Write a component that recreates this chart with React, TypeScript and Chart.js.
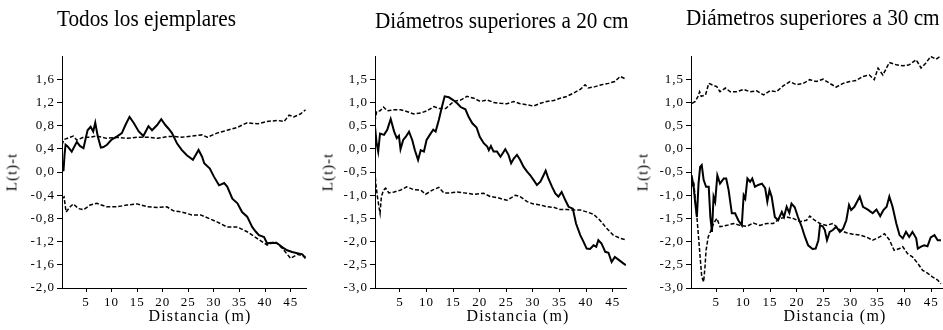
import { useEffect, useRef } from "react";
import { Chart, registerables } from "chart.js";

Chart.register(...registerables);

type Pt = [number, number];

// ---------- Titles & labels ----------
const panelTitles = [
  "Todos los ejemplares",
  "Diámetros superiores a 20 cm",
  "Diámetros superiores a 30 cm",
];
const xAxisTitle = "Distancia (m)";
const yAxisTitle = "L(t)-t";

// ---------- Tick values ----------
const xTickValues = [5, 10, 15, 20, 25, 30, 35, 40, 45];
const p1YTicks = [-2.0, -1.6, -1.2, -0.8, -0.4, 0.0, 0.4, 0.8, 1.2, 1.6];
const p23YTicks = [-3.0, -2.5, -2.0, -1.5, -1.0, -0.5, 0.0, 0.5, 1.0, 1.5];

// ---------- Panel 1: Todos los ejemplares ----------
const p1Observed: Pt[] = [
  [0.3, 0.02], [0.6, 0.03], [0.8, 0.3], [1.0, 0.47], [1.4, 0.44], [2.2, 0.35], [3.2, 0.52], [3.8, 0.45],
  [4.5, 0.41], [5.3, 0.72], [5.9, 0.78], [6.4, 0.70], [6.8, 0.85], [7.3, 0.61], [7.9, 0.42],
  [8.4, 0.43], [9.1, 0.47], [10, 0.56], [11, 0.61], [12, 0.67], [12.7, 0.81], [13.5, 0.95],
  [14.3, 0.85], [15.3, 0.70], [16.2, 0.62], [17.2, 0.79], [17.9, 0.72], [18.9, 0.81], [19.7, 0.91],
  [20.5, 0.81], [21.1, 0.75], [21.8, 0.67], [22.8, 0.49], [23.7, 0.38], [24.7, 0.29], [25.9, 0.21],
  [27, 0.38], [27.7, 0.26], [28.1, 0.15], [29.2, 0.06], [30, -0.08], [31, -0.23], [32, -0.19],
  [32.6, -0.25], [33.6, -0.46], [34.6, -0.54], [35.5, -0.69], [36.5, -0.77], [37.5, -0.95],
  [38.2, -1.03], [38.8, -1.09], [39.8, -1.12], [40.4, -1.23], [41.4, -1.22], [42.4, -1.23],
  [43.4, -1.30], [44.3, -1.35], [45.3, -1.38], [46.3, -1.40], [47.3, -1.42], [47.9, -1.49],
];
const p1Upper: Pt[] = [
  [0.3, 0.47], [0.7, 0.56], [1.9, 0.60], [2.5, 0.62], [3.2, 0.55], [4.5, 0.60], [5.8, 0.60],
  [7.1, 0.62], [9, 0.58], [11, 0.60], [13, 0.58], [15, 0.60], [17, 0.60], [19, 0.58], [20.8, 0.61],
  [22.4, 0.61], [23.7, 0.60], [25.7, 0.62], [27.7, 0.64], [28.7, 0.60], [30.6, 0.67], [32.6, 0.72],
  [34.6, 0.77], [36.5, 0.85], [38.5, 0.83], [40.4, 0.87], [42.4, 0.89], [43.7, 0.87], [44.7, 0.98],
  [45.6, 0.95], [46.9, 1.0], [47.9, 1.07],
];
const p1Lower: Pt[] = [
  [0.3, -0.46], [0.7, -0.43], [1.1, -0.69], [1.9, -0.60], [2.5, -0.55], [3.5, -0.63], [4.5, -0.65],
  [5.8, -0.57], [7.1, -0.54], [9, -0.60], [11, -0.60], [13, -0.57], [15, -0.55], [17, -0.60],
  [19, -0.61], [20.8, -0.60], [22.1, -0.67], [23.7, -0.69], [25.7, -0.74], [27.4, -0.74], [29, -0.80],
  [30.6, -0.86], [32.6, -0.95], [34.6, -0.95], [36.5, -1.03], [38.5, -1.15], [40.4, -1.26],
  [42, -1.20], [43.4, -1.32], [45, -1.49], [46.3, -1.42], [47.9, -1.46],
];

// ---------- Panel 2: Diámetros superiores a 20 cm ----------
const p2Observed: Pt[] = [
  [0.3, 0.48], [0.6, 0.12], [0.9, -0.06], [1.25, 0.33], [2, 0.30], [2.6, 0.41], [3.25, 0.64],
  [3.9, 0.37], [4.4, 0.23], [4.8, 0.28], [5.1, -0.01], [5.6, 0.19], [6.1, 0.26], [6.7, 0.37],
  [7.3, 0.19], [7.8, -0.03], [8.4, -0.24], [8.9, -0.03], [9.5, -0.06], [10, 0.19], [10.6, 0.30],
  [11.25, 0.41], [11.7, 0.37], [12.3, 0.62], [12.9, 0.91], [13.4, 1.13], [14.2, 1.11], [15, 1.05],
  [15.75, 0.98], [16.4, 0.90], [17.3, 0.85], [17.9, 0.69], [18.6, 0.55], [19.4, 0.46], [20, 0.26],
  [20.75, 0.12], [21.4, 0.05], [21.7, -0.03], [22.1, 0.06], [22.6, -0.06], [23.25, -0.06],
  [23.9, -0.17], [24.8, -0.01], [25.4, -0.13], [25.9, -0.31], [26.4, -0.21], [27, -0.13],
  [27.6, -0.24], [28.25, -0.39], [28.9, -0.49], [29.5, -0.57], [30.1, -0.67], [30.75, -0.78],
  [31.4, -0.71], [32, -0.57], [32.4, -0.47], [32.9, -0.64], [33.6, -0.82], [34.2, -0.96],
  [34.8, -1.03], [35.4, -0.93], [36.1, -1.11], [36.7, -1.25], [37.5, -1.29], [38.1, -1.61],
  [38.9, -1.86], [39.5, -2.0], [40.1, -2.15], [40.75, -2.16], [41.4, -2.08], [41.9, -2.11],
  [42.3, -1.97], [42.9, -2.04], [43.6, -2.22], [44.2, -2.24], [44.8, -2.44], [45.4, -2.33],
  [46.2, -2.40], [47, -2.47], [47.5, -2.51],
];
const p2Upper: Pt[] = [
  [0.3, 0.59], [0.6, 0.80], [1.25, 0.82], [1.9, 0.90], [2.6, 0.82], [3.9, 0.84], [5.1, 0.84],
  [6.4, 0.80], [7.6, 0.75], [8.9, 0.77], [10.1, 0.82], [11.4, 0.91], [12.3, 0.87], [13.6, 0.87],
  [15.1, 1.02], [16.4, 1.05], [17.6, 1.13], [18.9, 1.09], [20.1, 1.02], [21.4, 1.05], [22.6, 1.0],
  [23.9, 0.98], [25.1, 0.97], [26.4, 1.02], [27.6, 0.97], [28.9, 0.95], [30.1, 0.92], [31.4, 0.98],
  [32.6, 1.02], [33.9, 1.04], [35.1, 1.09], [36.4, 1.13], [37.6, 1.20], [38.9, 1.28], [39.8, 1.38],
  [40.4, 1.31], [41.7, 1.34], [42.9, 1.38], [44.2, 1.41], [45.4, 1.45], [46.4, 1.56], [47.5, 1.50],
];
const p2Lower: Pt[] = [
  [0.3, -0.49], [0.45, -0.75], [0.75, -1.03], [1.05, -1.25], [1.25, -1.39], [1.5, -1.03],
  [1.9, -0.89], [2.3, -0.85], [2.9, -0.95], [3.9, -0.93], [5.1, -0.89], [6.25, -0.82], [7.6, -0.88],
  [8.9, -0.89], [9.8, -0.98], [11.1, -0.89], [12.3, -0.83], [13.25, -0.95], [14.5, -0.95],
  [15.75, -0.93], [17, -0.95], [18.9, -0.98], [20.75, -0.96], [22, -1.03], [23.25, -1.05],
  [25.1, -1.11], [26.7, -1.0], [27.6, -1.03], [28.9, -1.14], [30.1, -1.19], [31.4, -1.21],
  [32.6, -1.25], [33.9, -1.26], [35.1, -1.31], [36.4, -1.31], [37.6, -1.32], [38.9, -1.32],
  [40.1, -1.36], [41.4, -1.41], [42.6, -1.54], [43.9, -1.72], [45.1, -1.86], [46.4, -1.93],
  [47.5, -1.96],
];

// ---------- Panel 3: Diámetros superiores a 30 cm ----------
const p3Observed: Pt[] = [
  [0.4, -0.57], [0.8, -0.82], [1.1, -1.18], [1.4, -1.47], [1.7, -0.75], [2, -0.39], [2.3, -0.35],
  [2.65, -0.67], [3.1, -0.82], [3.6, -0.82], [3.9, -1.47], [4.2, -1.79], [4.5, -1.03], [4.8, -1.14],
  [5.2, -0.57], [5.7, -0.75], [6.4, -0.64], [6.85, -0.64], [7.3, -0.89], [7.9, -1.39], [8.5, -1.39],
  [9.1, -1.54], [9.75, -1.65], [10.1, -1.0], [10.4, -1.07], [10.8, -0.64], [11.3, -0.71],
  [11.7, -0.64], [12.2, -0.82], [12.8, -0.78], [13.5, -0.75], [14.1, -0.85], [14.5, -1.14],
  [14.9, -0.89], [15.3, -1.03], [15.9, -1.47], [16.5, -1.54], [17.2, -1.36], [17.6, -1.47],
  [18.1, -1.25], [18.6, -1.38], [19, -1.18], [19.6, -1.26], [20.2, -1.47], [20.9, -1.68],
  [21.5, -1.90], [22.1, -2.08], [22.9, -2.16], [23.5, -2.15], [24, -1.97], [24.3, -1.65],
  [24.8, -1.67], [25.2, -1.75], [25.6, -1.97], [26.1, -1.79], [26.7, -1.75], [27.3, -1.68],
  [28, -1.79], [28.6, -1.72], [29.2, -1.54], [29.7, -1.21], [30.1, -1.32], [30.7, -1.25],
  [31.7, -1.03], [32.3, -1.25], [33.2, -1.31], [34.1, -1.39], [34.8, -1.31], [35.5, -1.45],
  [36.1, -1.32], [36.7, -1.25], [37.2, -1.03], [37.8, -1.25], [38.5, -1.61], [39.1, -1.86],
  [39.7, -1.93], [40.3, -1.79], [40.9, -1.90], [41.5, -1.79], [42.2, -1.93], [42.5, -2.15],
  [43.1, -2.11], [43.7, -2.08], [44.3, -2.10], [44.9, -1.91], [45.6, -1.86], [46.2, -1.97],
  [46.8, -1.97],
];
const p3Upper: Pt[] = [
  [0.5, 0.98], [1.1, 1.02], [1.6, 1.13], [1.9, 1.23], [2.2, 1.13], [3, 1.16], [3.6, 1.41],
  [4.2, 1.38], [5.1, 1.34], [5.7, 1.23], [6.7, 1.31], [7.6, 1.23], [8.8, 1.23], [10.1, 1.28],
  [11.3, 1.23], [12.5, 1.25], [13.8, 1.16], [15, 1.25], [16.2, 1.23], [17.5, 1.36], [18.7, 1.45],
  [19.9, 1.38], [21.2, 1.41], [22.4, 1.49], [23.6, 1.45], [24.9, 1.50], [26.1, 1.41], [27.3, 1.33],
  [28.6, 1.41], [29.8, 1.45], [31, 1.47], [32.3, 1.56], [33.5, 1.59], [34.4, 1.49], [35.1, 1.74],
  [36, 1.59], [37.2, 1.86], [38.5, 1.81], [39.7, 1.79], [40.9, 1.81], [42.2, 1.92], [43.1, 1.74],
  [44, 1.85], [44.9, 1.99], [45.9, 1.93], [46.8, 2.0],
];
const p3Lower: Pt[] = [
  [0.4, -0.82], [0.8, -0.71], [1.1, -1.11], [1.4, -1.47], [1.7, -1.90], [2, -2.33], [2.3, -2.76],
  [2.65, -2.87], [2.9, -2.55], [3.1, -2.19], [3.5, -1.90], [3.9, -1.79], [4.5, -1.61], [5.1, -1.50],
  [5.7, -1.68], [7, -1.65], [8.2, -1.61], [9.4, -1.65], [10.7, -1.67], [11.9, -1.60], [13.1, -1.65],
  [14.4, -1.61], [15.6, -1.61], [16.9, -1.50], [18.1, -1.47], [19.3, -1.50], [20.6, -1.57],
  [21.8, -1.54], [22.4, -1.45], [23.3, -1.54], [24.3, -1.61], [25.5, -1.65], [26.7, -1.61],
  [28, -1.75], [29.2, -1.81], [30.4, -1.84], [31.7, -1.86], [32.9, -1.90], [34.1, -1.97],
  [35.4, -1.90], [36.3, -1.83], [37.2, -1.96], [38.1, -2.19], [39.1, -2.15], [39.7, -2.11],
  [40.6, -2.26], [41.5, -2.33], [42.5, -2.47], [43.4, -2.62], [44.3, -2.68], [45.2, -2.76],
  [46.2, -2.83], [46.8, -2.91],
];

const FONT = "'Liberation Serif', 'Times New Roman', serif";

const fmtComma = (v: number) => {
  const s = Number(v).toFixed(1).replace(".", ",");
  return s === "-0,0" ? "0,0" : s;
};

const letterSpacingPlugin = {
  id: "tickLetterSpacing",
  beforeDraw(chart: any) {
    chart.ctx.letterSpacing = "1px";
  },
  afterDraw(chart: any) {
    chart.ctx.letterSpacing = "0px";
  },
};

type PanelProps = {
  left: number;
  width: number;
  yAxisWidth: number;
  padRight: number;
  xMin: number;
  xMax: number;
  yMin: number;
  yMax: number;
  yTicks: number[];
  observed: Pt[];
  upper: Pt[];
  lower: Pt[];
};

function Panel(p: PanelProps) {
  const ref = useRef<HTMLCanvasElement | null>(null);
  useEffect(() => {
    if (!ref.current) return;
    const toXY = (arr: Pt[]) => arr.map(([x, y]) => ({ x, y }));
    const chart = new Chart(ref.current, {
      type: "line",
      data: {
        datasets: [
          {
            data: toXY(p.observed),
            borderColor: "#000",
            borderWidth: 2,
            pointRadius: 0,
            tension: 0,
            fill: false,
          },
          {
            data: toXY(p.upper),
            borderColor: "#000",
            borderWidth: 1.5,
            borderDash: [4, 2],
            pointRadius: 0,
            tension: 0,
            fill: false,
          },
          {
            data: toXY(p.lower),
            borderColor: "#000",
            borderWidth: 1.5,
            borderDash: [4, 2],
            pointRadius: 0,
            tension: 0,
            fill: false,
          },
        ],
      },
      options: {
        animation: false,
        responsive: false,
        maintainAspectRatio: false,
        events: [],
        layout: { padding: { top: 56, right: p.padRight, bottom: 0, left: 0 } },
        plugins: {
          legend: { display: false },
          tooltip: { enabled: false },
          title: { display: false },
        },
        scales: {
          x: {
            type: "linear",
            min: p.xMin,
            max: p.xMax,
            afterBuildTicks: (s: any) => {
              s.ticks = xTickValues.map((v) => ({ value: v }));
            },
            afterFit: (s: any) => {
              s.height = 42;
            },
            grid: { drawOnChartArea: false, drawTicks: true, tickLength: 4, color: "#000", lineWidth: 1 },
            border: { display: true, color: "#000", width: 1 },
            ticks: {
              color: "#000",
              font: { family: FONT, size: 13 },
              padding: 3,
              maxRotation: 0,
              autoSkip: false,
              callback: (v: any) => String(v),
            },
          },
          y: {
            type: "linear",
            min: p.yMin,
            max: p.yMax,
            afterBuildTicks: (s: any) => {
              s.ticks = p.yTicks.map((v) => ({ value: v }));
            },
            afterFit: (s: any) => {
              s.width = p.yAxisWidth;
            },
            grid: { drawOnChartArea: false, drawTicks: true, tickLength: 5, color: "#000", lineWidth: 1 },
            border: { display: true, color: "#000", width: 1 },
            ticks: {
              color: "#000",
              font: { family: FONT, size: 13 },
              padding: 2,
              autoSkip: false,
              callback: (v: any) => fmtComma(v),
            },
          },
        },
      } as any,
      plugins: [letterSpacingPlugin],
    });
    return () => chart.destroy();
  }, []);
  return (
    <canvas
      ref={ref}
      width={p.width}
      height={330}
      style={{ position: "absolute", left: p.left, top: 0, width: p.width, height: 330 }}
    />
  );
}

const titleStyle = (left: number, top: number): any => ({
  position: "absolute",
  left,
  top,
  fontFamily: FONT,
  fontSize: 24,
  lineHeight: "24px",
  whiteSpace: "nowrap",
  transform: "scaleX(0.885)",
  transformOrigin: "left top",
  color: "#000",
});

const xTitleStyle = (cx: number): any => ({
  position: "absolute",
  left: cx,
  top: 308,
  transform: "translateX(-50%)",
  fontFamily: FONT,
  fontSize: 16,
  lineHeight: "16px",
  letterSpacing: "1.2px",
  whiteSpace: "nowrap",
  color: "#000",
});

const yTitleStyle = (cx: number): any => ({
  position: "absolute",
  left: cx,
  top: 172,
  transform: "translate(-50%, -50%) rotate(-90deg)",
  fontFamily: FONT,
  fontSize: 15,
  lineHeight: "15px",
  letterSpacing: "1px",
  whiteSpace: "nowrap",
  color: "#000",
});

export default function App() {
  useEffect(() => {
    document.body.style.margin = "0";
  }, []);
  return (
    <div style={{ position: "fixed", left: 0, top: 0, width: 943, height: 330, background: "#fff", overflow: "hidden" }}>
      <Panel left={0} width={309} yAxisWidth={62} padRight={3} xMin={0.3} xMax={48} yMin={-2} yMax={2}
        yTicks={p1YTicks} observed={p1Observed} upper={p1Upper} lower={p1Lower} />
      <Panel left={318} width={311} yAxisWidth={57} padRight={3} xMin={0.3} xMax={47.5} yMin={-3} yMax={2}
        yTicks={p23YTicks} observed={p2Observed} upper={p2Upper} lower={p2Lower} />
      <Panel left={632} width={311} yAxisWidth={59} padRight={1} xMin={0.3} xMax={47} yMin={-3} yMax={2}
        yTicks={p23YTicks} observed={p3Observed} upper={p3Upper} lower={p3Lower} />

      <div style={titleStyle(57, 6)}>{panelTitles[0]}</div>
      <div style={titleStyle(375, 7.5)}>{panelTitles[1]}</div>
      <div style={titleStyle(686, 4.5)}>{panelTitles[2]}</div>

      <div style={xTitleStyle(200)}>{xAxisTitle}</div>
      <div style={xTitleStyle(518)}>{xAxisTitle}</div>
      <div style={xTitleStyle(835)}>{xAxisTitle}</div>

      <div style={yTitleStyle(12)}>{yAxisTitle}</div>
      <div style={yTitleStyle(328)}>{yAxisTitle}</div>
      <div style={yTitleStyle(643)}>{yAxisTitle}</div>
    </div>
  );
}
